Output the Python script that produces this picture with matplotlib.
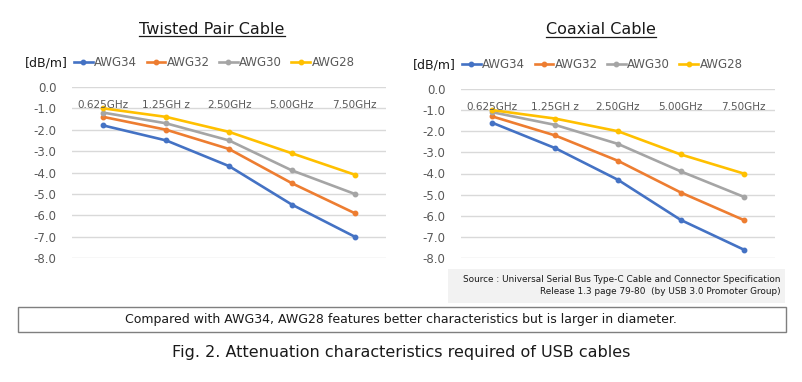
import matplotlib
matplotlib.use("Agg")
import matplotlib.pyplot as plt
from matplotlib.lines import Line2D
from matplotlib.patches import Rectangle

# Categories and series (attenuation in dB/m)
freqs = ["0.625GHz", "1.25GH z", "2.50GHz", "5.00GHz", "7.50GHz"]
series_names = ["AWG34", "AWG32", "AWG30", "AWG28"]
colors = ["#4472C4", "#ED7D31", "#A5A5A5", "#FFC000"]

twisted_awg34 = [-1.8, -2.5, -3.7, -5.5, -7.0]
twisted_awg32 = [-1.4, -2.0, -2.9, -4.5, -5.9]
twisted_awg30 = [-1.2, -1.7, -2.5, -3.9, -5.0]
twisted_awg28 = [-1.0, -1.4, -2.1, -3.1, -4.1]

coax_awg34 = [-1.6, -2.8, -4.3, -6.2, -7.6]
coax_awg32 = [-1.3, -2.2, -3.4, -4.9, -6.2]
coax_awg30 = [-1.1, -1.7, -2.6, -3.9, -5.1]
coax_awg28 = [-1.0, -1.4, -2.0, -3.1, -4.0]

yticks = [0, -1, -2, -3, -4, -5, -6, -7, -8]

W, H = 803, 382
fig = plt.figure(figsize=(W / 100, H / 100), dpi=100)

def fx(px):
    return px / W

def fy(py):
    return 1 - py / H

def draw_panel(rect, data, title, title_y, unit_x, unit_y):
    ax = fig.add_axes(rect)
    xs = [i + 0.5 for i in range(len(freqs))]
    for vals, c, name in zip(data, colors, series_names):
        ax.plot(xs, vals, color=c, lw=1.9, marker="o", ms=3.2, label=name, clip_on=False)
    ax.set_xlim(0, 5)
    ax.set_ylim(-8, 0)
    ax.set_yticks(yticks)
    ax.set_yticklabels([f"{v:.1f}" for v in yticks], color="#595959", fontsize=8.5)
    ax.tick_params(axis="y", length=0, pad=11)
    ax.set_xticks([])
    ax.grid(axis="y", color="#D9D9D9", lw=1)
    ax.set_axisbelow(True)
    for s in ax.spines.values():
        s.set_visible(False)
    for x, lab in zip(xs, freqs):
        ax.text(x, -0.84, lab, ha="center", va="center", fontsize=7.5, color="#595959")
    # title with underline
    cx = rect[0] + rect[2] / 2 - fx(17)
    t = fig.text(cx, title_y, title, ha="center", va="center", fontsize=11.5, color="#1a1a1a")
    fig.canvas.draw()
    bb = t.get_window_extent().transformed(fig.transFigure.inverted())
    fig.add_artist(Line2D([bb.x0, bb.x1], [bb.y0 + 0.002, bb.y0 + 0.002], color="#1a1a1a", lw=0.9))
    # unit and legend
    fig.text(fx(unit_x), fy(unit_y), "[dB/m]", ha="left", va="center", fontsize=9, color="#1a1a1a")
    handles, labels = ax.get_legend_handles_labels()
    fig.legend(handles, labels, loc="center left", bbox_to_anchor=(fx(unit_x + 49), fy(unit_y)),
               ncol=4, frameon=False, fontsize=8.5, handlelength=1.6, handletextpad=0.1,
               columnspacing=0.8, borderaxespad=0, borderpad=0, labelcolor="#595959")
    return ax

draw_panel([fx(72), fy(258), fx(314), (258 - 87) / H],
           [twisted_awg34, twisted_awg32, twisted_awg30, twisted_awg28],
           "Twisted Pair Cable", fy(29), 25, 63)
draw_panel([fx(461), fy(258), fx(314), (258 - 89) / H],
           [coax_awg34, coax_awg32, coax_awg30, coax_awg28],
           "Coaxial Cable", fy(30), 413, 65)

# source box
fig.add_artist(Rectangle((fx(448), fy(303)), fx(337), (303 - 269) / H,
                         facecolor="#F2F2F2", edgecolor="none"))
fig.text(fx(781), fy(280), "Source : Universal Serial Bus Type-C Cable and Connector Specification",
         ha="right", va="center", fontsize=6.4, color="#1a1a1a")
fig.text(fx(781), fy(292), "Release 1.3 page 79-80  (by USB 3.0 Promoter Group)",
         ha="right", va="center", fontsize=6.4, color="#1a1a1a")

# comment box
fig.add_artist(Rectangle((fx(18), fy(332)), fx(768), (332 - 307) / H,
                         facecolor="white", edgecolor="#7F7F7F", lw=1))
fig.text(fx(401), fy(320), "Compared with AWG34, AWG28 features better characteristics but is larger in diameter.",
         ha="center", va="center", fontsize=9, color="#1a1a1a")

fig.text(fx(401), fy(352), "Fig. 2. Attenuation characteristics required of USB cables",
         ha="center", va="center", fontsize=11.5, color="#1a1a1a")

fig.savefig("out.png", dpi=100)
